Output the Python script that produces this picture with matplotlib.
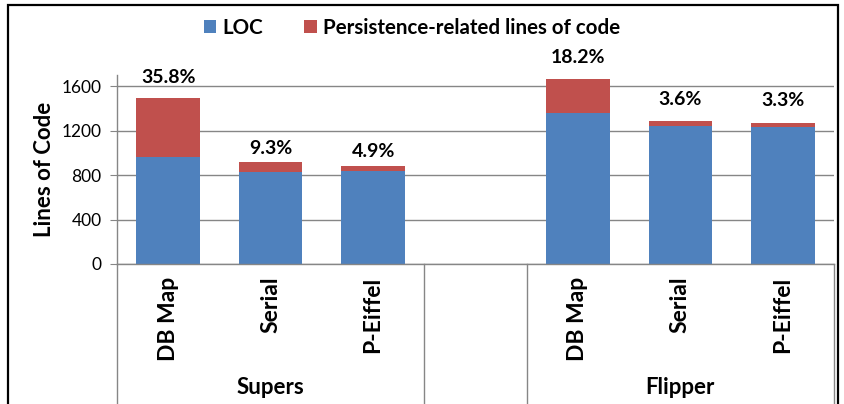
import matplotlib.pyplot as plt
import matplotlib.transforms as mtransforms
from matplotlib.patches import Rectangle

# data
groups = ['Supers', 'Flipper']
systems = ['DB Map', 'Serial', 'P-Eiffel']
loc = [958, 830, 838, 1360, 1244, 1230]
persist = [534, 85, 43, 303, 46, 42]
pct_labels = ['35.8%', '9.3%', '4.9%', '18.2%', '3.6%', '3.3%']

# style
blue = '#4F81BD'
red = '#C0504D'
gray = '#868686'
plt.rcParams['font.family'] = ['Lato', 'DejaVu Sans']

fig = plt.figure(figsize=(8.44, 4.04), dpi=100)
ax = fig.add_axes([117/844, 140/404, 717/844, 189/404])

# slot 3 is the empty gap between the two groups
xpos = [0, 1, 2, 4, 5, 6]
width = 0.62
ax.bar(xpos, loc, width, color=blue, label='LOC', zorder=2)
ax.bar(xpos, persist, width, bottom=loc, color=red,
       label='Persistence-related lines of code', zorder=2)

# percentage labels (offsets in points, as placed in the original)
offsets = [9.0, 3.5, 4.0, 9.5, 9.0, 9.5]
for x, l, p, txt, off in zip(xpos, loc, persist, pct_labels, offsets):
    ax.annotate(txt, (x, l + p), xytext=(0, off), textcoords='offset points',
                ha='center', va='bottom', fontsize=14, fontweight='bold')

ax.set_xlim(-0.5, 6.5)
ax.set_ylim(0, 1700)
ax.set_yticks([0, 400, 800, 1200, 1600])
ax.yaxis.grid(True, color=gray, linewidth=1, zorder=0)
ax.tick_params(axis='y', direction='out', length=5, color=gray,
               labelsize=12.5, pad=6)
ax.set_ylabel('Lines of Code', fontsize=16, fontweight='bold', labelpad=5)

ax.set_xticks(xpos)
ax.set_xticklabels(systems * 2, rotation=90, fontsize=16.5, fontweight='bold',
                   va='top')
ax.tick_params(axis='x', length=0, pad=9)

for s in ['top', 'right']:
    ax.spines[s].set_visible(False)
for s in ['left', 'bottom']:
    ax.spines[s].set_color(gray)
    ax.spines[s].set_linewidth(1)

# group separators and group names below the axis
trans = mtransforms.blended_transform_factory(ax.transData, ax.transAxes)
for x in [-0.5, 2.5, 3.5, 6.5]:
    ax.plot([x, x], [0, -0.75], color=gray, linewidth=1,
            transform=trans, clip_on=False)
for gx, name in zip([1, 5], groups):
    ax.text(gx, -0.655, name, transform=trans, ha='center', va='center',
            fontsize=16, fontweight='bold')

fig.legend(loc='center', bbox_to_anchor=(412/844, 1 - 28/404), ncol=2,
           frameon=False, prop={'size': 14.8, 'weight': 'bold'},
           handlelength=0.6, handleheight=0.6, handletextpad=0.3,
           columnspacing=2.0)

# outer chart border
fig.patches.append(Rectangle((8/844, -0.05), 830/844, 1.05 - 5/404,
                             transform=fig.transFigure, fill=False,
                             edgecolor='black', linewidth=1.6))

fig.savefig('out.png', dpi=100)
